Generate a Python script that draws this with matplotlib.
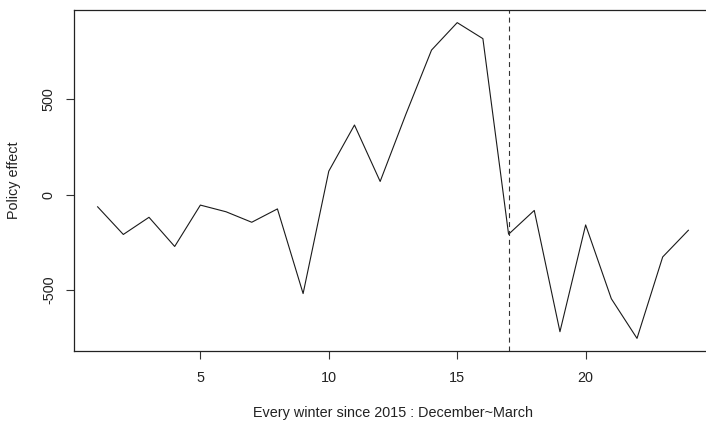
import numpy as np
import matplotlib
matplotlib.use("Agg")
import matplotlib.pyplot as plt

plt.rcParams['font.family'] = ['Liberation Sans', 'DejaVu Sans']

# Winter index since 2015 and estimated policy effect
winters = list(range(1, 25))
effect = [-63, -208, -118, -271, -54, -89, -144, -74, -518, 124, 366, 70,
          422, 759, 903, 819, -207, -82, -718, -158, -545, -753, -326, -186]
policy_start = 17
x_ticks = [5, 10, 15, 20]
y_ticks = [-500, 0, 500]

DPI = 100
W, H = 706, 422
fig = plt.figure(figsize=(W / DPI, H / DPI), dpi=DPI)

# plot region in pixels (right edge runs slightly past the canvas)
left, right, top, bottom = 74, 712, 10, 351
ax = fig.add_axes([left / W, 1 - bottom / H, (right - left) / W, (bottom - top) / H])

ax.plot(winters, effect, color='#1a1a1a', lw=0.8)
ax.axvline(policy_start, color='#333333', lw=0.8, dashes=(4.5, 3.5))

# R-style 4% padding on both axes
xmin, xmax = min(winters), max(winters)
ymin, ymax = min(effect), max(effect)
dx, dy = 0.04 * (xmax - xmin), 0.04 * (ymax - ymin)
ax.set_xlim(xmin - dx, xmax + dx)
ax.set_ylim(ymin - dy, ymax + dy)

ax.set_xticks(x_ticks)
ax.set_xticklabels([str(t) for t in x_ticks])
ax.set_yticks(y_ticks)
ax.set_yticklabels([str(t) for t in y_ticks], rotation=90, va='center')

fs = 10.4
ax.tick_params(axis='both', direction='out', length=6, width=0.8, color='#333333',
               labelsize=fs, labelcolor='#222222')
ax.tick_params(axis='x', pad=8.5)
ax.tick_params(axis='y', pad=7)

for s in ax.spines.values():
    s.set_linewidth(0.9)
    s.set_color('#222222')

fig.text(((left + right) / 2) / W, 1 - 413 / H, 'Every winter since 2015 : December~March',
         ha='center', va='center', fontsize=fs, color='#222222')
fig.text(14 / W, 1 - ((top + bottom) / 2) / H, 'Policy effect', rotation=90,
         ha='center', va='center', fontsize=fs, color='#222222')

fig.savefig('out.png', dpi=DPI)
